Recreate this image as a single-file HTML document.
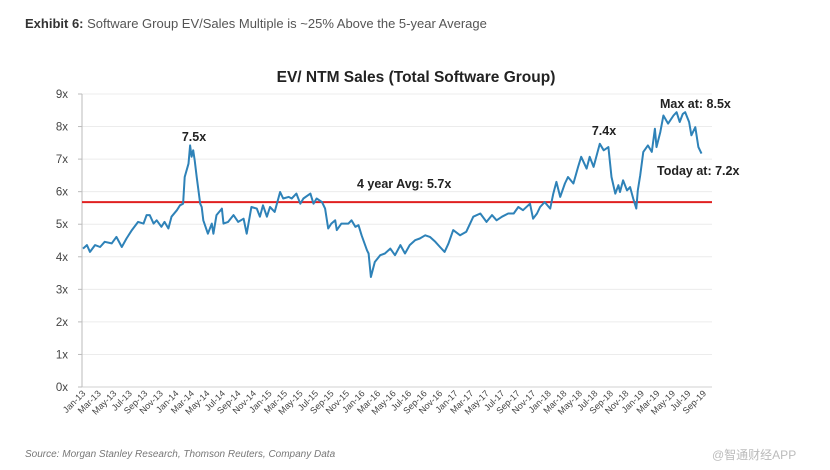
<!DOCTYPE html>
<html><head><meta charset="utf-8">
<style>
html,body{margin:0;padding:0;background:#fff;}
body{width:830px;height:470px;overflow:hidden;position:relative;font-family:"Liberation Sans","Noto Sans CJK SC",sans-serif;}
#hdr{position:absolute;left:25px;top:16px;font-size:13px;color:#555;white-space:nowrap;}
#hdr b{color:#333;}
#src{position:absolute;left:25px;top:449px;font-size:10px;font-style:italic;color:#777;}
#wm{position:absolute;left:712px;top:446px;font-size:12px;color:#bbb;}
svg{position:absolute;left:0;top:0;}
</style></head><body>
<div id="hdr"><b>Exhibit 6:</b> Software Group EV/Sales Multiple is ~25% Above the 5-year Average</div>
<svg id="chart" width="830" height="470"></svg>
<div id="src">Source: Morgan Stanley Research, Thomson Reuters, Company Data</div>
<div id="wm">@智通财经APP</div>
<script>
const months=[0,0.5,0.9,1.55,2.2,2.8,3.7,4.3,5.0,5.6,6.3,7.1,7.8,8.2,8.6,9.1,9.5,10.1,10.5,11.0,11.4,12.1,12.5,12.9,13.1,13.6,13.8,14.0,14.2,14.4,14.65,15.1,15.3,15.5,16.1,16.6,16.8,17.2,17.9,18.1,18.7,19.4,20.0,20.7,21.1,21.7,22.4,22.8,23.2,23.7,24.1,24.7,25.4,25.8,26.5,26.9,27.5,28.0,28.4,29.3,29.7,30.1,30.8,31.2,31.6,32.0,32.5,32.7,33.3,34.2,34.6,35.1,35.5,35.9,36.6,36.8,37.1,37.6,38.3,38.9,39.6,40.2,40.9,41.5,42.1,42.8,43.4,44.1,44.7,45.4,46.0,46.6,47.1,47.7,48.6,49.4,50.3,51.2,52.0,52.7,53.3,54.0,54.8,55.5,56.1,56.7,57.6,58.0,58.5,58.9,59.5,60.2,60.6,61.0,61.5,62.1,62.5,63.2,63.8,64.2,64.9,65.3,65.8,66.2,66.6,67.1,67.7,68.1,68.6,69.0,69.2,69.6,70.1,70.5,70.9,71.3,71.5,71.8,72.2,72.8,73.3,73.7,73.9,74.4,74.8,75.4,76.1,76.5,76.9,77.3,77.6,78.1,78.4,78.9,79.3,79.7,80.4,81.0];
const values=[4.25,4.36,4.15,4.36,4.30,4.46,4.41,4.61,4.30,4.56,4.82,5.07,5.02,5.28,5.28,5.02,5.12,4.92,5.07,4.87,5.23,5.43,5.58,5.63,6.45,6.86,7.42,7.07,7.27,6.96,6.45,5.63,5.53,5.12,4.71,5.02,4.71,5.28,5.48,5.02,5.07,5.28,5.07,5.17,4.71,5.53,5.48,5.23,5.58,5.23,5.53,5.38,5.99,5.79,5.84,5.79,5.94,5.63,5.79,5.94,5.63,5.79,5.68,5.48,4.87,5.02,5.12,4.82,5.02,5.02,5.12,4.92,4.97,4.66,4.20,4.10,3.38,3.84,4.05,4.10,4.25,4.05,4.36,4.10,4.36,4.51,4.56,4.66,4.61,4.46,4.30,4.15,4.41,4.82,4.66,4.77,5.23,5.33,5.07,5.28,5.12,5.23,5.33,5.33,5.53,5.43,5.63,5.17,5.33,5.53,5.68,5.48,5.94,6.30,5.84,6.25,6.45,6.25,6.76,7.07,6.71,7.07,6.76,7.12,7.47,7.27,7.37,6.45,5.94,6.20,5.99,6.35,6.04,6.14,5.79,5.48,6.04,6.50,7.22,7.42,7.22,7.93,7.37,7.83,8.34,8.09,8.34,8.44,8.14,8.39,8.44,8.14,7.73,7.98,7.37,7.17];
const yTicks=[0,1,2,3,4,5,6,7,8,9];
const avgValue=5.68;
const xLabels=[];
(function(){const mn=['Jan','Mar','May','Jul','Sep','Nov'];for(let y=13;y<=19;y++)for(const m of mn){if(y===19&&m==='Nov')continue;xLabels.push(m+'-'+y);}})();
const annotations=[["7.5x",194,141],["7.4x",604,135],["Max at: 8.5x",660,108],["Today at: 7.2x",657,175],["4 year Avg: 5.7x",357,188]];

const svg=document.getElementById('chart');
const NS='http://www.w3.org/2000/svg';
const X0=82,X1=712,Y0=387,Y9=94;
const xs=m=>83+m*7.76;
const ys=v=>Y0-(v/9)*(Y0-Y9);
function mk(t,a){const e=document.createElementNS(NS,t);for(const k in a)e.setAttribute(k,a[k]);svg.appendChild(e);return e;}

const title=mk('text',{x:416,y:82,'text-anchor':'middle','font-size':15.5,'font-weight':'bold',fill:'#222','font-family':'Liberation Sans, sans-serif'});
title.textContent='EV/ NTM Sales (Total Software Group)';



yTicks.forEach(t=>{
  const g=mk('line',{x1:X0,x2:X1,y1:ys(t),y2:ys(t),stroke:t===0?'#d0d0d0':'#ececec','stroke-width':1});
  
  
  const l=mk('text',{x:68,y:ys(t)+4,'text-anchor':'end','font-size':11.5,fill:'#444'});
  l.textContent=t+'x';
  
  
  const tk=mk('line',{x1:X0-4,x2:X0,y1:ys(t),y2:ys(t),stroke:'#bbb'});
  
  
});
const ax=mk('line',{x1:X0,x2:X0,y1:Y9,y2:Y0,stroke:'#bbb'});



xLabels.forEach((s,i)=>{
  const x=xs(i*2)+3,y=394;
  const t=mk('text',{x:x,y:y,'text-anchor':'end','font-size':9,fill:'#444',transform:`rotate(-45 ${x} ${y})`});
  t.textContent=s;
  
  
});

const avg=mk('line',{x1:X0,x2:X1,y1:ys(avgValue),y2:ys(avgValue),stroke:'#e02020','stroke-width':2});



const pts=months.map((m,i)=>xs(m).toFixed(1)+','+ys(values[i]).toFixed(1)).join(' ');
const line=mk('polyline',{points:pts,fill:'none',stroke:'#2e82b8','stroke-width':2,'stroke-linejoin':'round'});



annotations.forEach(a=>{
  const t=mk('text',{x:a[1],y:a[2],'font-size':12.5,'font-weight':'bold',fill:'#222'});
  if(a[0]==='7.5x'||a[0]==='7.4x')t.setAttribute('text-anchor','middle');
  t.textContent=a[0];
  
  
});
</script>
</body></html>
